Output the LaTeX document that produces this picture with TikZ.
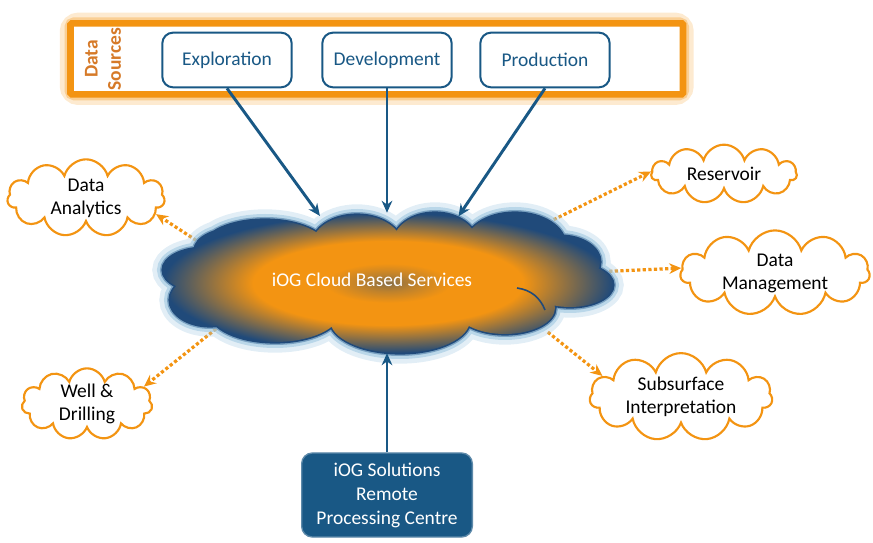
\documentclass[tikz,border=0pt]{standalone}
\usepackage{fontspec}
\setmainfont{Carlito}
\usetikzlibrary{shapes.symbols, shapes.geometric, arrows.meta}

\definecolor{iogblue}{RGB}{25,88,133}
\definecolor{iogdark}{RGB}{32,74,122}
\definecolor{iogorange}{RGB}{243,148,18}
\definecolor{iogrust}{RGB}{214,122,40}
\definecolor{iogglow}{RGB}{160,200,225}

\pgfdeclareradialshading{cloudshade}{\pgfpoint{0bp}{0bp}}{%
  color(0bp)=(iogdark!50!iogorange); color(3bp)=(iogorange!75!iogdark);
  color(7bp)=(iogorange); color(15bp)=(iogorange);
  color(25bp)=(iogdark); color(50bp)=(iogdark)}

% пузыри большого облака
\newcommand{\svcpuffs}{(265,294) ellipse (62 and 28) (357,297) ellipse (45 and 30)
  (435,299) ellipse (42 and 30) (515,297) ellipse (50 and 32) (560,280) ellipse (40 and 26)
  (570,257) ellipse (43 and 22) (505,234) ellipse (50 and 26) (400,222) ellipse (70 and 33)
  (275,230) ellipse (65 and 30) (210,242) ellipse (40 and 26) (205,272) ellipse (42 and 22)
  (240,292) ellipse (45 and 22) (386,262) ellipse (180 and 45)}

\tikzset{
  srcbox/.style={draw=iogblue, line width=1.5pt, rounded corners=8pt, fill=white,
    text=iogblue, minimum width=97pt, minimum height=41pt},
  topic/.style={cloud, cloud puffs=11, cloud ignores aspect, inner sep=0pt,
    draw=iogorange, line width=1.6pt, fill=white, align=center},
  link/.style={->, draw=iogblue, line width=2.2pt},
  feed/.style={->, draw=iogorange, line width=2.4pt, dash pattern=on 2.4pt off 1.8pt},
}

\begin{document}
\begin{tikzpicture}[>={Stealth[length=9pt, width=8pt]}, x=0.75pt, y=0.75pt,
	font=\fontsize{14.6}{17.3}\selectfont]
	\useasboundingbox (0,0) rectangle (873,542);
	% Рамка источников данных
	\draw[iogorange!20, line width=16pt, rounded corners=6pt] (70.5,447.7) rectangle (683,518.7);
	\draw[iogorange!45, line width=9pt, rounded corners=3pt] (70.5,447.7) rectangle (683,518.7);
	\draw[iogorange, line width=4.9pt, fill=white, rounded corners=1pt] (70.5,447.7) rectangle (683,518.7);
	
	\node[rotate=90, text=iogrust, align=center, font=\fontsize{14.6}{17.3}\selectfont\bfseries]
	(sources) at (103,483) {Data\\Sources};
	
	\node[srcbox] (explo) at (227,482) {Exploration};
	\node[srcbox] (devel) at (387,482) {Development};
	\node[srcbox] (prod) at (545,482) {Production};
	
	% Облако сервисов
	\node[ellipse, minimum width=337.5pt, minimum height=105pt] (svc) at (387,259) {};
	
	\node[topic, minimum width=118pt, minimum height=58pt] (analytics) at (86,344) {Data\\Analytics};
	\node[topic, minimum width=109pt, minimum height=44pt] (reservoir) at (724,368) {Reservoir};
	\node[topic, minimum width=142pt, minimum height=55pt] (datamgmt) at (775,269) {Data\\Management};
	\node[topic, minimum width=98pt, minimum height=49pt] (welldrill) at (87,138) {Well \&\\Drilling};
	\node[topic, minimum width=137pt, minimum height=64pt] (subsurf) at (681,145) {Subsurface\\Interpretation};
	
	\draw[feed] (svc.168) -- (analytics.-13);
	\draw[feed] (svc.20) -- (reservoir.178);
	\draw[feed] (svc.3) -- (datamgmt.177);
	\draw[feed] (svc.-17) -- (subsurf.165);
	\draw[feed] (svc.195) -- (welldrill.17);
	
	\draw[iogglow, opacity=.3, line width=16pt] \svcpuffs;
	\draw[iogglow, opacity=.6, line width=9pt] \svcpuffs;
	\draw[iogglow!70!iogdark, line width=4.5pt] \svcpuffs;
	\draw[iogdark, line width=2.4pt] \svcpuffs;
	\shade[shading=cloudshade] \svcpuffs;
	\draw[iogdark, line width=1.2pt] (517,254) to[bend left=30] (545,232);
	\node[text=white] (svctext) at (372,262) {iOG Cloud Based Services};
	
	\node[fill=iogblue, draw=iogblue!70!white, line width=1pt, rounded corners=8pt, text=white,
	align=center, minimum width=128pt, minimum height=63pt,
	font=\fontsize{14.6}{18}\selectfont] (rpc) at (387,47) {iOG Solutions\\Remote\\Processing Centre};
	
	% Стрелки
	\draw[link] (explo.south) -- (svc.135);
	\draw[link] (devel.south) -- (svc.north);
	\draw[link] (prod.south) -- (svc.43);
	\draw[link] (rpc.north) -- (svc.south);
\end{tikzpicture}
\end{document}
